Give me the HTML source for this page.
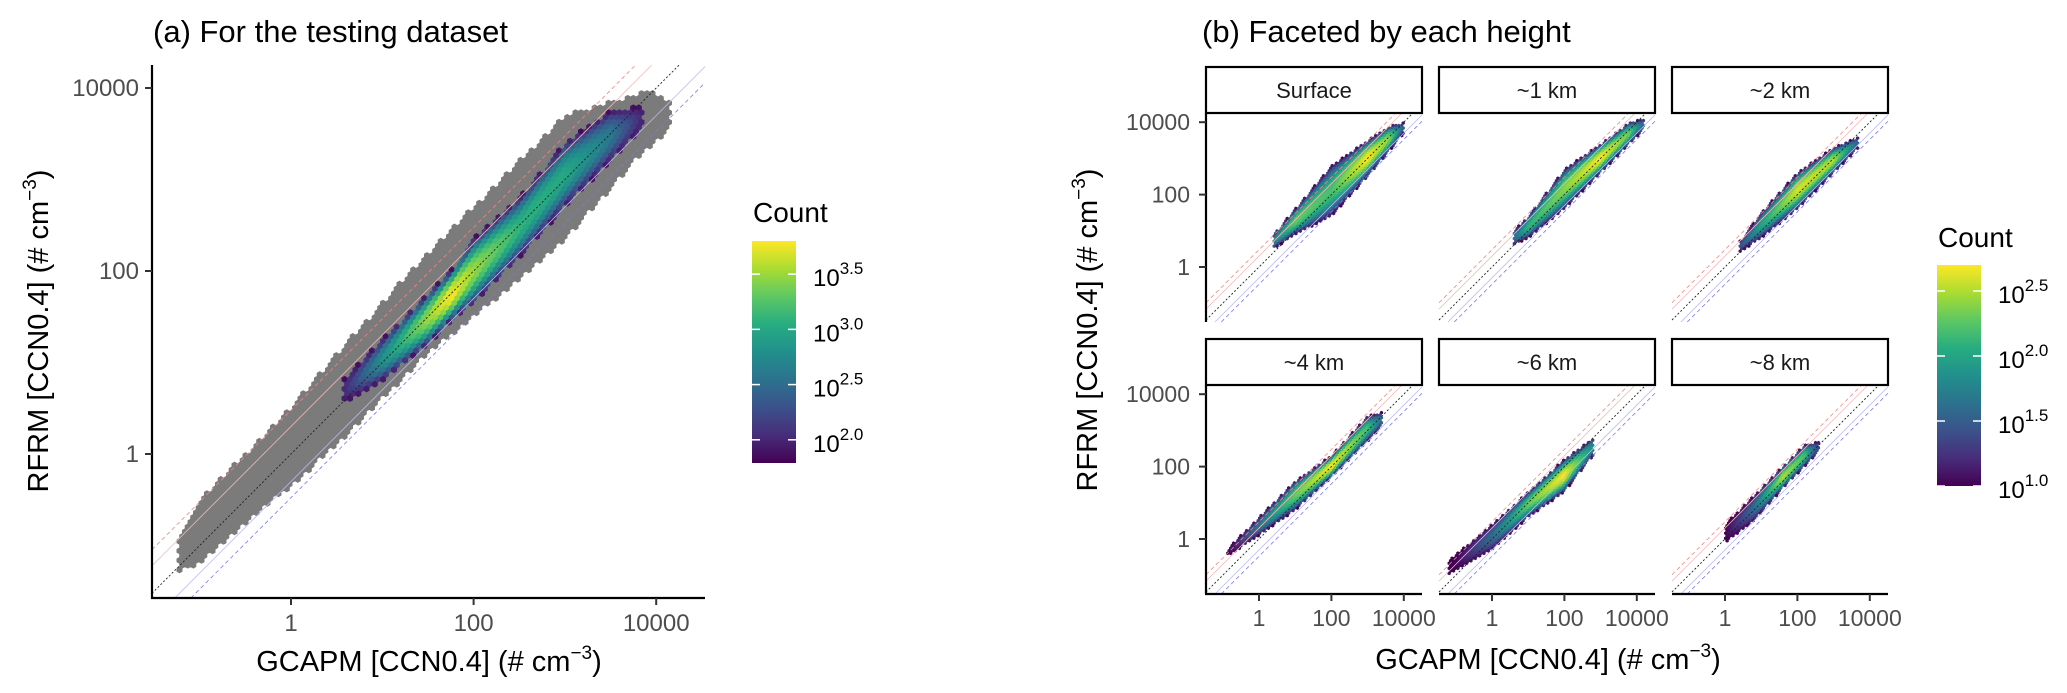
<!DOCTYPE html>
<html><head><meta charset="utf-8"><style>
html,body{margin:0;padding:0;background:#fff;width:2067px;height:693px;overflow:hidden}
svg{display:block;font-family:"Liberation Sans",Arial,sans-serif}
</style></head><body>
<svg id="chart" width="2067" height="693" viewBox="0 0 2067 693" xmlns="http://www.w3.org/2000/svg">
<defs>
<linearGradient id="vir" x1="0" y1="1" x2="0" y2="0">
<stop offset="0" stop-color="#440154"/><stop offset=".125" stop-color="#472D7B"/><stop offset=".25" stop-color="#3B528B"/><stop offset=".375" stop-color="#2C728E"/><stop offset=".5" stop-color="#21908C"/><stop offset=".625" stop-color="#27AD81"/><stop offset=".75" stop-color="#5DC863"/><stop offset=".875" stop-color="#AADC32"/><stop offset="1" stop-color="#FDE725"/>
</linearGradient>
</defs>
<text x="153" y="42" font-size="31" fill="#000">(a) For the testing dataset</text>
<text x="1202" y="42" font-size="31" fill="#000">(b) Faceted by each height</text>
<g id="left"></g>
<g id="right"></g>
<text transform="translate(48,331) rotate(-90)" text-anchor="middle" font-size="29">RFRM [CCN0.4] (# cm<tspan font-size="19" dy="-12">−3</tspan><tspan dy="12">)</tspan></text>
<text x="429" y="671" text-anchor="middle" font-size="29">GCAPM [CCN0.4] (# cm<tspan font-size="19" dy="-12">−3</tspan><tspan dy="12">)</tspan></text>
<text transform="translate(1097,330) rotate(-90)" text-anchor="middle" font-size="29">RFRM [CCN0.4] (# cm<tspan font-size="19" dy="-12">−3</tspan><tspan dy="12">)</tspan></text>
<text x="1548" y="669" text-anchor="middle" font-size="29">GCAPM [CCN0.4] (# cm<tspan font-size="19" dy="-12">−3</tspan><tspan dy="12">)</tspan></text>
</svg>
<script>
// ---------- data: left panel (log10 units) ----------
const greyX  = [-1.25,-1,-0.5,0,0.5,0.6,1,1.5,2,2.5,3,3.5,3.85,4.0,4.15];
const greyLo = [-1.3,-1.2,-0.75,-0.35,0.1,0.2,0.6,1.1,1.5,1.9,2.35,2.9,3.3,3.4,3.6];
const greyHi = [-1.0,-0.5,0,0.5,1.1,1.2,1.65,2.2,2.7,3.2,3.7,3.85,3.95,3.95,3.85];
const colX   = [0.57,1,1.5,1.75,2,2.5,3,3.5,3.85];
const colLo  = [0.55,0.8,1.2,1.45,1.65,2.15,2.7,3.2,3.55];
const colHi  = [0.8,1.25,1.75,2.0,2.35,2.8,3.4,3.75,3.8];
const colPeak= [2.0,2.8,3.5,3.8,3.5,3.1,3.0,2.6,2.0];
const leftTicks = [0,2,4];
const leftTickLabels = ["1","100","10000"];
const leftLegendTicks = [2.0,2.5,3.0,3.5];
const leftLegendLabels = ["2.0","2.5","3.0","3.5"];
// ---------- data: facets ----------
const facetNames = ["Surface","~1 km","~2 km","~4 km","~6 km","~8 km"];
const surfX=[0.4,1,2,3,3.6,4],      surfLo=[0.5,0.9,1.4,2.5,3.2,3.7], surfHi=[0.9,1.6,2.8,3.5,3.9,4.0], surfPeak=[1.8,2.3,2.2,2.7,2.4,1.5];
const km1X=[0.6,1,2,3,3.8,4.2],     km1Lo=[0.6,0.8,1.6,2.6,3.4,3.8],  km1Hi=[1.0,1.4,2.7,3.4,4.0,4.1],  km1Peak=[1.6,2.1,2.4,2.7,2.3,1.5];
const km2X=[0.4,1,2,3,3.7],         km2Lo=[0.4,0.8,1.6,2.6,3.3],      km2Hi=[0.7,1.5,2.6,3.3,3.6],      km2Peak=[1.4,2.0,2.6,2.5,1.5];
const km4X=[-0.9,0,1,2,3,3.4],      km4Lo=[-0.5,0.1,0.8,1.7,2.7,3.1], km4Hi=[-0.3,0.6,1.6,2.3,3.4,3.5], km4Peak=[1.0,1.7,2.3,2.7,2.2,1.6];
const km6X=[-1.2,0,1,2,2.8],        km6Lo=[-1.0,-0.3,0.6,1.3,2.3],    km6Hi=[-0.6,0.4,1.3,2.2,2.8],     km6Peak=[0.9,1.6,2.3,2.7,1.8];
const km8X=[0,0.8,1.6,2.2,2.6],     km8Lo=[-0.1,0.5,1.4,2.0,2.4],     km8Hi=[0.4,1.2,2.0,2.6,2.7],      km8Peak=[1.0,1.6,2.5,2.2,1.3];
const rightTicks=[0,2,4];
const rightTickLabels=["1","100","10000"];
const rightLegendTicks=[1.0,1.5,2.0,2.5];
const rightLegendLabels=["1.0","1.5","2.0","2.5"];
const refOffsets=[0.477,0.301,0,-0.301,-0.477];

const NS="http://www.w3.org/2000/svg";
function mk(tag,attrs,parent){const e=document.createElementNS(NS,tag);for(const k in attrs)e.setAttribute(k,attrs[k]);if(parent)parent.appendChild(e);return e;}
function interp(xs,ys,x){if(x<=xs[0])return ys[0];for(let i=1;i<xs.length;i++){if(x<=xs[i]){const t=(x-xs[i-1])/(xs[i]-xs[i-1]);return ys[i-1]+t*(ys[i]-ys[i-1]);}}return ys[ys.length-1];}
const vs=["#440154","#472D7B","#3B528B","#2C728E","#21908C","#27AD81","#5DC863","#AADC32","#FDE725"].map(h=>[parseInt(h.slice(1,3),16),parseInt(h.slice(3,5),16),parseInt(h.slice(5,7),16)]);
function viridis(t){t=Math.max(0,Math.min(1,t));const p=t*8,i=Math.min(7,Math.floor(p)),f=p-i;const a=vs[i],b=vs[i+1];return "rgb("+a.map((v,k)=>Math.round(v+(b[k]-v)*f)).join(",")+")";}
function hexPath(cx,cy,R){let d="";for(let k=0;k<6;k++){const a=Math.PI/3*k+Math.PI/6;d+=(k?"L":"M")+(cx+R*Math.cos(a)).toFixed(1)+","+(cy+R*Math.sin(a)).toFixed(1);}return d+"Z";}

function refLines(g,sx,sy,ix,iy,x0,x1,y0,y1){
  const styles=[["#e88","4,3",0.8],["#f4b8b8","",0.8],["#222","2,2",0.9],["#b8b8f4","",0.8],["#77e","4,3",0.8]];
  const lxMin=ix(x0),lxMax=ix(x1),lyMin=iy(y1),lyMax=iy(y0);
  refOffsets.forEach((o,i)=>{
    const a=Math.max(lxMin,lyMin-o), b=Math.min(lxMax,lyMax-o);
    if(b<=a)return;
    const l=mk("line",{x1:sx(a),y1:sy(a+o),x2:sx(b),y2:sy(b+o),stroke:styles[i][0],"stroke-width":styles[i][2],"stroke-dasharray":styles[i][1]},g);
    
    
  });
}

// ---------- left panel ----------
(function(){
  const g=document.getElementById("left");
  const X0=152,X1=705,Y0=65,Y1=598;
  const sx=l=>291+91.3*l, sy=l=>454-91.5*l;
  const ix=p=>(p-291)/91.3, iy=p=>(454-p)/91.5;
  const cmin=1.79,cmax=3.80,floor=1.85;
  const w=5.5,R=w/Math.sqrt(3),rh=1.5*R;
  let greyD="";const colored=[];
  for(let r=0;Y0+r*rh<Y1;r++){
    const cy=Y0+r*rh;
    for(let c=0;X0+c*w<X1;c++){
      const cx=X0+c*w+(r%2?w/2:0);
      const lx=ix(cx),ly=iy(cy);
      if(lx<colX[colX.length-1]&&lx>colX[0]){
        const lo=interp(colX,colLo,lx),hi=interp(colX,colHi,lx),pk=interp(colX,colPeak,lx);
        if(ly>=lo&&ly<=hi){const m=(lo+hi)/2,h=(hi-lo)/2,d=Math.abs(ly-m)/h;const cnt=floor+(pk-floor)*(1-d*d);colored.push([cx,cy,cnt]);continue;}
      }
      if(lx>=greyX[0]&&lx<=greyX[greyX.length-1]){
        const lo=interp(greyX,greyLo,lx),hi=interp(greyX,greyHi,lx);
        if(ly>=lo&&ly<=hi)greyD+=hexPath(cx,cy,R+0.3);
      }
    }
  }
  const gp=mk("path",{d:greyD,fill:"#7b7b7b"},g);
  
  
  colored.forEach(([cx,cy,cnt])=>{
    const h=mk("path",{d:hexPath(cx,cy,R+0.3),fill:viridis((cnt-cmin)/(cmax-cmin))},g);
    
    
  });
  refLines(g,sx,sy,ix,iy,X0,X1,Y0,Y1);
  const ax=mk("path",{d:`M${X0},${Y0}V${Y1}H${X1}`,fill:"none",stroke:"#000","stroke-width":2.2},g);
  
  
  leftTicks.forEach((t,i)=>{
    mk("line",{x1:X0-7,x2:X0,y1:sy(t),y2:sy(t),stroke:"#333","stroke-width":2},g);
    const ty=mk("text",{x:X0-13,y:sy(t)+8,"text-anchor":"end","font-size":24,fill:"#4d4d4d"},g);ty.textContent=leftTickLabels[i];
    
    
    mk("line",{x1:sx(t),x2:sx(t),y1:Y1,y2:Y1+7,stroke:"#333","stroke-width":2},g);
    const tx=mk("text",{x:sx(t),y:Y1+33,"text-anchor":"middle","font-size":24,fill:"#4d4d4d"},g);tx.textContent=leftTickLabels[i];
    
    
  });
  legend(g,752,241,44,222,1.79,3.80,leftLegendTicks,leftLegendLabels,753,222);
})();

function legend(g,x,y,w,h,lo,hi,ticks,labels,tx,ty){
  const t=mk("text",{x:tx,y:ty,"font-size":28,fill:"#000"},g);t.textContent="Count";
  
  
  const r=mk("rect",{x:x,y:y,width:w,height:h,fill:"url(#vir)"},g);
  
  
  ticks.forEach((v,i)=>{
    const yy=y+h-(v-lo)/(hi-lo)*h;
    mk("line",{x1:x,x2:x+8,y1:yy,y2:yy,stroke:"#fff","stroke-width":1.5},g);
    mk("line",{x1:x+w-8,x2:x+w,y1:yy,y2:yy,stroke:"#fff","stroke-width":1.5},g);
    const lt=mk("text",{x:x+w+17,y:yy+12,"font-size":24,fill:"#000"},g);
    lt.textContent="10";
    const s=mk("tspan",{"font-size":17,dy:-12},lt);s.textContent=labels[i];
    
    
  });
}

// ---------- right facets ----------
(function(){
  const g=document.getElementById("right");
  const facets=[[surfX,surfLo,surfHi,surfPeak],[km1X,km1Lo,km1Hi,km1Peak],[km2X,km2Lo,km2Hi,km2Peak],[km4X,km4Lo,km4Hi,km4Peak],[km6X,km6Lo,km6Hi,km6Peak],[km8X,km8Lo,km8Hi,km8Peak]];
  const colL=[1206,1439,1672],PW=216,stripT=[67,339],SH=46,PH=209;
  const cmin=1.0,cmax=2.70,floor=1.0;
  const w=2.9,R=w/Math.sqrt(3),rh=1.5*R;
  facets.forEach((f,fi)=>{
    const col=fi%3,row=Math.floor(fi/3);
    const X0=colL[col],X1=X0+PW,Y0=stripT[row]+SH,Y1=Y0+PH;
    const sx=l=>X0+53+36.2*l, sy=l=>Y0+154-36.2*l;
    const ix=p=>(p-X0-53)/36.2, iy=p=>(Y0+154-p)/36.2;
    const fg=mk("g",{},g);
    
    
    const [xs,los,his,pks]=f;
    for(let r=0;Y0+r*rh<Y1;r++){
      const cy=Y0+r*rh;
      for(let c=0;X0+c*w<X1;c++){
        const cx=X0+c*w+(r%2?w/2:0);
        const lx=ix(cx),ly=iy(cy);
        if(lx<xs[0]||lx>xs[xs.length-1])continue;
        const lo=interp(xs,los,lx),hi=interp(xs,his,lx),pk=interp(xs,pks,lx);
        if(ly<lo||ly>hi)continue;
        const m=(lo+hi)/2,h=(hi-lo)/2||0.01,d=Math.abs(ly-m)/h;
        const cnt=floor+(pk-floor)*(1-d*d);
        const hx=mk("path",{d:hexPath(cx,cy,R+0.25),fill:viridis((cnt-cmin)/(cmax-cmin))},fg);
        
        
      }
    }
    refLines(fg,sx,sy,ix,iy,X0,X1,Y0,Y1);
    const st=mk("rect",{x:X0,y:stripT[row],width:PW,height:SH,fill:"#fff",stroke:"#000","stroke-width":2.2},fg);
    
    
    const stt=mk("text",{x:X0+PW/2,y:stripT[row]+31,"text-anchor":"middle","font-size":22,fill:"#1a1a1a"},fg);stt.textContent=facetNames[fi];
    
    
    if(col===0){
      mk("line",{x1:X0,x2:X0,y1:Y0,y2:Y1,stroke:"#000","stroke-width":2.2},fg);
      rightTicks.forEach((t,i)=>{
        mk("line",{x1:X0-7,x2:X0,y1:sy(t),y2:sy(t),stroke:"#333","stroke-width":2},fg);
        const ty=mk("text",{x:X0-16,y:sy(t)+8,"text-anchor":"end","font-size":23,fill:"#4d4d4d"},fg);ty.textContent=rightTickLabels[i];
        
        
      });
    }
    if(row===1){
      mk("line",{x1:X0-(col===0?1:0),x2:X1,y1:Y1,y2:Y1,stroke:"#000","stroke-width":2.2},fg);
      rightTicks.forEach((t,i)=>{
        mk("line",{x1:sx(t),x2:sx(t),y1:Y1,y2:Y1+7,stroke:"#333","stroke-width":2},fg);
        const tx=mk("text",{x:sx(t),y:Y1+32,"text-anchor":"middle","font-size":23,fill:"#4d4d4d"},fg);tx.textContent=rightTickLabels[i];
        
        
      });
    }
  });
  legend(g,1937,265,44,221,1.0,2.70,rightLegendTicks,rightLegendLabels,1938,247);
})();
</script>
</body></html>
